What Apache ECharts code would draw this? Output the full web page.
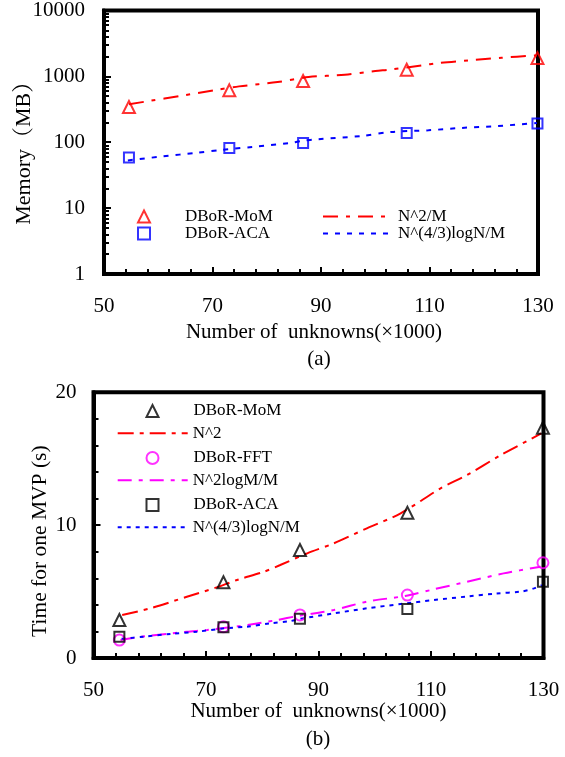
<!DOCTYPE html>
<html>
<head>
<meta charset="utf-8">
<script src="https://cdn.jsdelivr.net/npm/echarts@6/dist/echarts.min.js"></script>
<style>
  html, body { margin: 0; padding: 0; background: #fff; }
  #chart { width: 565px; height: 757px; }
</style>
</head>
<body>
<div id="chart"></div>
<script>
// Number of unknowns (x1000) for the five test cases
const unknowns = [54.6, 73.1, 86.7, 105.8, 129.9];

// (a) memory in MB
const memMoM = [343, 614, 849, 1264, 1893];
const memACA = [58.7, 82, 97.6, 138.4, 192];
// reference complexity curves for (a): [unknowns, MB]
const memCurveN2M = [[54.6, 377], [58.4, 424], [63.9, 502], [70.3, 615], [74.9, 705], [82.0, 820], [87.7, 977], [94.4, 1060], [100.0, 1205], [103.0, 1277], [108.6, 1469], [111.6, 1592], [117.2, 1746], [123.3, 1919], [129.8, 2080]];
const memCurveN43 = [[54.4, 53], [60.8, 61], [67.0, 69], [71.9, 77], [77.4, 85], [84.2, 97], [86.5, 105], [89.5, 111], [97.5, 124.7], [103.0, 143.6], [109.8, 152], [115.9, 165], [122.7, 176.7], [129.8, 196]];

// (b) time for one MVP in seconds
const timeMoM = [2.86, 5.70, 8.13, 10.93, 17.33];
const timeFFT = [1.35, 2.35, 3.24, 4.74, 7.17];
const timeACA = [1.60, 2.31, 2.96, 3.69, 5.74];
// reference complexity curves for (b): [unknowns, s]
const timeCurveN2 = [[55.1, 3.24], [60.1, 3.74], [66.6, 4.61], [72.3, 5.37], [75.5, 5.87], [80.3, 6.49], [83.2, 7.0], [88.0, 7.88], [92.7, 8.63], [98.6, 9.76], [104.6, 10.89], [111.7, 12.77], [116.4, 13.77], [122.4, 15.27], [129.6, 16.9]];
const timeCurveN2logM = [[54.8, 1.35], [58.4, 1.6], [63.1, 1.81], [66.6, 1.98], [70.2, 2.11], [76.1, 2.41], [82.0, 2.81], [86.8, 3.2], [92.7, 3.61], [98.6, 4.24], [105.4, 4.67], [110.5, 5.17], [116.4, 5.74], [122.9, 6.37], [129.5, 6.87]];
const timeCurveN43 = [[55.0, 1.45], [58.9, 1.6], [63.7, 1.81], [68.4, 1.98], [73.2, 2.23], [77.3, 2.36], [81.5, 2.61], [85.0, 2.78], [86.8, 2.95], [92.7, 3.36], [98.6, 3.74], [104.6, 4.06], [110.5, 4.36], [116.4, 4.63], [121.5, 4.85], [126.0, 5.0], [128.3, 5.24], [129.7, 5.49]];

// axis ticks and titles
const xTicks = { min: 50, max: 130, interval: 20 };
const memTicks = { min: 1, max: 10000 };
const timeTicks = { min: 0, max: 20, interval: 10 };
const xTitle = 'Number of  unknowns(\u00d71000)';
const memTitle = 'Memory\uff08MB\uff09';
const timeTitle = 'Time for one MVP (s)';

const FONT = "'Liberation Serif', 'Noto Serif CJK SC', 'Noto Sans CJK SC', serif";
const pair = (xs, ys) => xs.map((x, i) => [x, ys[i]]);

function xAxisCfg(gridIndex, nameGap, namePad) {
  return {
    type: 'value', gridIndex, min: xTicks.min, max: xTicks.max, interval: xTicks.interval,
    name: xTitle, nameLocation: 'middle', nameGap, nameMoveOverlap: false,
    nameTextStyle: { fontFamily: FONT, fontSize: 21, color: '#000', padding: namePad },
    axisLine: { lineStyle: { color: '#000', width: 4 } },
    axisTick: { inside: true, length: 7, lineStyle: { color: '#000', width: 2 } },
    minorTick: { show: true, splitNumber: 5, length: 5, lineStyle: { color: '#000', width: 2 } },
    axisLabel: { fontFamily: FONT, fontSize: 21, color: '#000', margin: 22 },
    splitLine: { show: false }
  };
}

function yAxisBase(gridIndex, name, nameGap, namePad, labelMargin, nameSize) {
  return {
    gridIndex, name, nameLocation: 'middle', nameGap, nameMoveOverlap: false,
    nameTextStyle: { fontFamily: FONT, fontSize: nameSize, color: '#000', padding: namePad },
    axisLine: { lineStyle: { color: '#000', width: 4 } },
    axisTick: { inside: true, length: 7, lineStyle: { color: '#000', width: 2 } },
    minorTick: { show: true, length: 5, lineStyle: { color: '#000', width: 2 } },
    axisLabel: { fontFamily: FONT, fontSize: 21, color: '#000', margin: labelMargin },
    splitLine: { show: false }
  };
}

const memY = Object.assign(yAxisBase(0, memTitle, 69, [0, 11, 0, 0], 19, 22), {
  type: 'log', logBase: 10, min: memTicks.min, max: memTicks.max,
  axisLabel: { fontFamily: FONT, fontSize: 21, color: '#000', margin: 19, formatter: v => String(Math.round(v)) }
});
memY.minorTick.splitNumber = 9;

const timeY = Object.assign(yAxisBase(1, timeTitle, 42, [0, 32, 0, 0], 17, 21.5), {
  type: 'value', min: timeTicks.min, max: timeTicks.max, interval: timeTicks.interval
});
timeY.minorTick.splitNumber = 5;

function marker(name, symbol, size, color, data, axis) {
  return {
    type: 'scatter', name, symbol, symbolSize: size, data,
    xAxisIndex: axis, yAxisIndex: axis, z: 3,
    itemStyle: { color: 'rgba(0,0,0,0)', borderColor: color, borderWidth: 2 }
  };
}
function curve(name, color, dash, data, axis) {
  return {
    type: 'line', name, data, symbol: 'none', smooth: 0.3,
    xAxisIndex: axis, yAxisIndex: axis, z: 2,
    lineStyle: { color, width: 2, type: dash }
  };
}

const dashTopRed = [15, 8, 4, 8];
const dashTopBlue = [5, 7];
const dashBotRed = [16, 6, 4, 6];
const dashBotPink = [14, 7, 4, 7];
const dashBotBlue = [4, 5];

function mItem(name, icon, color) {
  return { name, icon, itemStyle: { color: 'rgba(0,0,0,0)', borderColor: color, borderWidth: 2 } };
}
function lItem(name, color, dash) {
  return { name, icon: 'inherit', lineStyle: { color, width: 2, type: dash }, itemStyle: { color: 'rgba(0,0,0,0)', borderWidth: 0, opacity: 0 } };
}
const legendText = { fontFamily: FONT, fontSize: 17, color: '#000' };
// marker keys: a small icon with the label pushed to the text column
const markerText = Object.assign({ padding: [0, 0, 0, 30] }, legendText);

const option = {
  backgroundColor: '#fff',
  animation: false,
  grid: [
    { left: 104, top: 10, width: 434, height: 264, show: true, borderColor: '#000', borderWidth: 4, backgroundColor: 'rgba(0,0,0,0)' },
    { left: 93.5, top: 392.3, width: 450, height: 265.7, show: true, borderColor: '#000', borderWidth: 4, backgroundColor: 'rgba(0,0,0,0)' }
  ],
  xAxis: [xAxisCfg(0, 48, [0, 14, 0, 0]), xAxisCfg(1, 43, [0, 0, 0, 0])],
  yAxis: [memY, timeY],
  legend: [
    {
      left: 137, top: 208, orient: 'vertical', padding: 0, itemGap: 0,
      itemWidth: 12, itemHeight: 12, selectedMode: false,
      textStyle: Object.assign({ lineHeight: 16 }, markerText),
      data: [mItem('DBoR-MoM', 'triangle', '#ff0000'), mItem('DBoR-ACA', 'rect', '#0000ff')]
    },
    {
      left: 322, top: 208, orient: 'vertical', padding: 0, itemGap: 0,
      itemWidth: 70, itemHeight: 12, selectedMode: false,
      textStyle: Object.assign({ lineHeight: 16 }, legendText),
      data: [lItem('N^2/M', '#ff0000', dashTopRed), lItem('N^(4/3)logN/M', '#0000ff', dashTopBlue)]
    },
    {
      left: 145.5, top: 402.5, orient: 'vertical', padding: 0, itemGap: 30,
      itemWidth: 12, itemHeight: 12, selectedMode: false,
      textStyle: Object.assign({ lineHeight: 17 }, markerText),
      data: [
        mItem('DBoR-MoM', 'triangle', '#000'),
        mItem('DBoR-FFT', 'circle', '#ff00ff'),
        mItem('DBoR-ACA', 'rect', '#000')
      ]
    },
    {
      left: 116.7, top: 424.8, orient: 'vertical', padding: 0, itemGap: 30,
      itemWidth: 70, itemHeight: 12, selectedMode: false,
      textStyle: Object.assign({ lineHeight: 17 }, legendText),
      data: [
        lItem('N^2', '#ff0000', dashBotRed),
        lItem('N^2logM/M', '#ff00ff', dashBotPink),
        lItem('N^(4/3)logN/M', '#0000ff', dashBotBlue)
      ]
    }
  ],
  graphic: [
    { type: 'text', x: 319, y: 359, style: { text: '(a)', font: "21px " + FONT, fill: '#000', align: 'center', verticalAlign: 'middle' } },
    { type: 'text', x: 318, y: 739, style: { text: '(b)', font: "21px " + FONT, fill: '#000', align: 'center', verticalAlign: 'middle' } }
  ],
  series: [
    marker('DBoR-MoM', 'triangle', 12, '#ff0000', pair(unknowns, memMoM), 0),
    marker('DBoR-ACA', 'rect', 10, '#0000ff', pair(unknowns, memACA), 0),
    curve('N^2/M', '#ff0000', dashTopRed, memCurveN2M, 0),
    curve('N^(4/3)logN/M', '#0000ff', dashTopBlue, memCurveN43, 0),
    marker('DBoR-MoM', 'triangle', 12, '#000', pair(unknowns, timeMoM), 1),
    curve('N^2', '#ff0000', dashBotRed, timeCurveN2, 1),
    marker('DBoR-FFT', 'circle', 11, '#ff00ff', pair(unknowns, timeFFT), 1),
    curve('N^2logM/M', '#ff00ff', dashBotPink, timeCurveN2logM, 1),
    marker('DBoR-ACA', 'rect', 10, '#000', pair(unknowns, timeACA), 1),
    curve('N^(4/3)logN/M', '#0000ff', dashBotBlue, timeCurveN43, 1)
  ]
};

const chart = echarts.init(document.getElementById('chart'), null, { renderer: 'canvas' });
chart.setOption(option);
</script>
</body>
</html>
